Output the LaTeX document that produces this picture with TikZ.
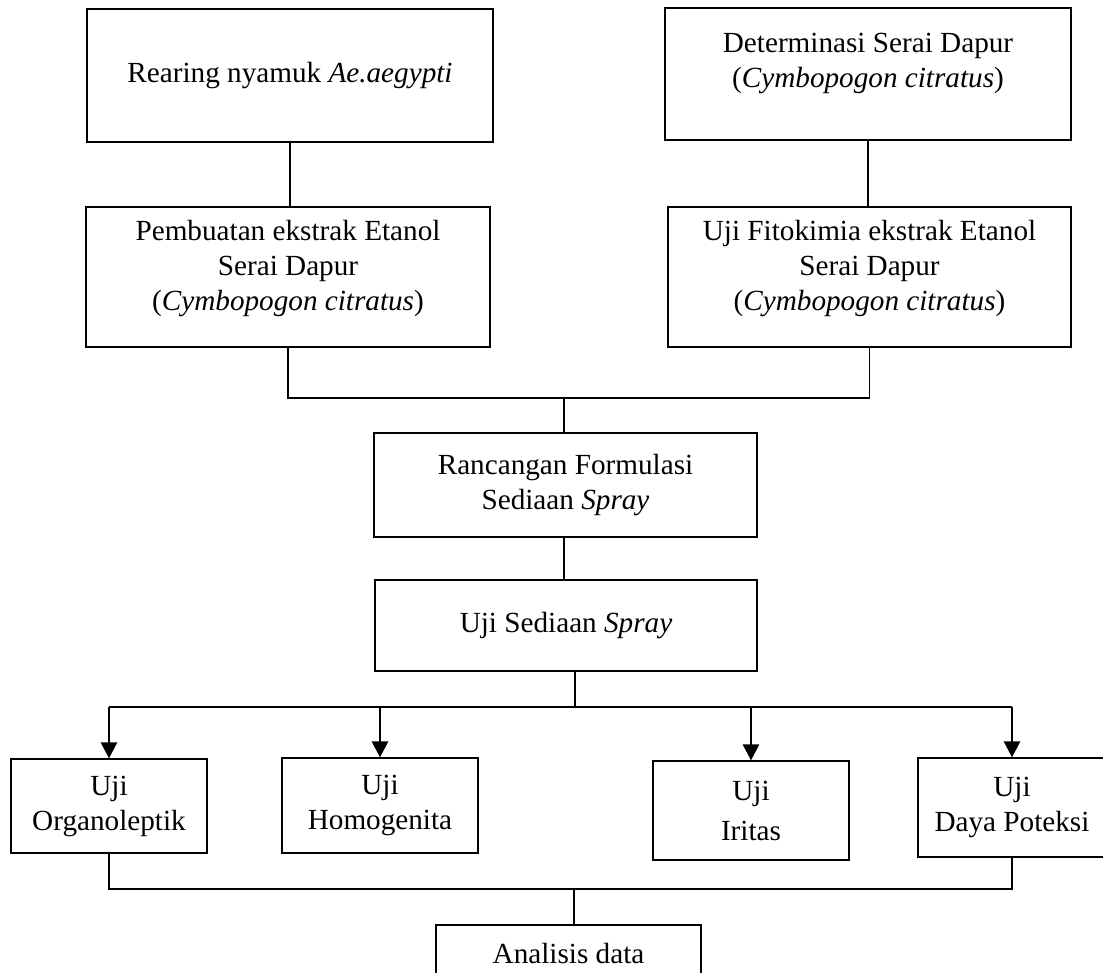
\documentclass[tikz,border=0pt]{standalone}
\usepackage{fontspec}
\setmainfont{Liberation Serif}
\usetikzlibrary{positioning,arrows.meta}
\newcommand{\boxfont}{\fontsize{14.6}{17.5}\selectfont}
\tikzset{
  procbox/.style={draw, line width=0.6pt, inner sep=0pt,
    align=center, font=\boxfont},
  boxtext/.style={inner sep=0pt, align=center, font=\boxfont},
  link/.style={line width=0.6pt},
  testarr/.style={-{Triangle[length=8pt,width=8pt]}, line width=1.4pt},
}

\begin{document}
\begin{tikzpicture}[x=0.5pt, y=-0.5pt]
  \useasboundingbox (0,0) rectangle (1103,973);
  % Row 0: starting material
  \node[procbox, minimum width=203pt, minimum height=66.5pt] at (290,75.5) (rear)
    {Rearing nyamuk \textit{Ae.aegypti}};
  \node[procbox, minimum width=203pt, minimum height=66pt] at (868,74) (det) {};
  \node[boxtext] at (868,63.5) (detText)
    {Determinasi Serai Dapur\\(\textit{Cymbopogon citratus})};
  % Row 1: extract
  \node[procbox, minimum width=202pt, minimum height=70pt] at (288,277) (pem) {};
  \node[boxtext] at (288,268.5) (pemText)
    {Pembuatan ekstrak Etanol\\Serai Dapur\\(\textit{Cymbopogon citratus})};
  \node[procbox, minimum width=201.5pt, minimum height=70pt] at (869.5,277) (fit) {};
  \node[boxtext] at (869.5,268.5) (fitText)
    {Uji Fitokimia ekstrak Etanol\\Serai Dapur\\(\textit{Cymbopogon citratus})};
  % Row 2-3: formulation
  \node[procbox, minimum width=191.5pt, minimum height=52pt] at (565.5,485) (ranc)
    {Rancangan Formulasi\\Sediaan \textit{Spray}};
  \node[procbox, minimum width=191pt, minimum height=45.5pt] at (566,625.5) (ujis)
    {Uji Sediaan \textit{Spray}};
  % Row 4: tests
  \node[procbox, minimum width=98pt, minimum height=47pt] at (109,806) (org)
    {Uji\\Organoleptik};
  \node[procbox, minimum width=98pt, minimum height=47.5pt] at (380,805.5) (hom)
    {Uji\\Homogenita};
  \node[procbox, minimum width=98pt, minimum height=49.5pt] at (751,810.5) (iri)
    {Uji\\[2.5pt]Iritas};
  \node[procbox, minimum width=94pt, minimum height=49.5pt] at (1012,807.5) (day)
    {Uji\\Daya Poteksi};
  % Row 5: output
  \node[procbox, minimum width=132.5pt, minimum height=29pt] at (568.5,954) (ana)
    {Analisis data};
  % Junctions
  \coordinate (joinA) at (564,398);
  \coordinate (joinB) at (575,707);
  \coordinate (joinC) at (574,889);
  % Edges
  \draw[link] (rear.south) -- (rear.south |- pem.north);
  \draw[link] (det.south) -- (det.south |- fit.north);
  \draw[link] (pem.south) |- (joinA) -| (fit.south);
  \draw[link] (joinA) -- (joinA |- ranc.north);
  \draw[link] (ranc.south -| joinA) -- (ujis.north -| joinA);
  \draw[link] (joinB |- ujis.south) -- (joinB);
  \draw[link] (joinB -| org.north) -- (joinB -| day.north);
  \foreach \t in {org,hom,iri,day}
    \draw[testarr] (joinB -| \t.north) -- (\t.north);
  \draw[link] (org.south) |- (joinC) -| (day.south);
  \draw[link] (joinC) -- (joinC |- ana.north);
\end{tikzpicture}
\end{document}
